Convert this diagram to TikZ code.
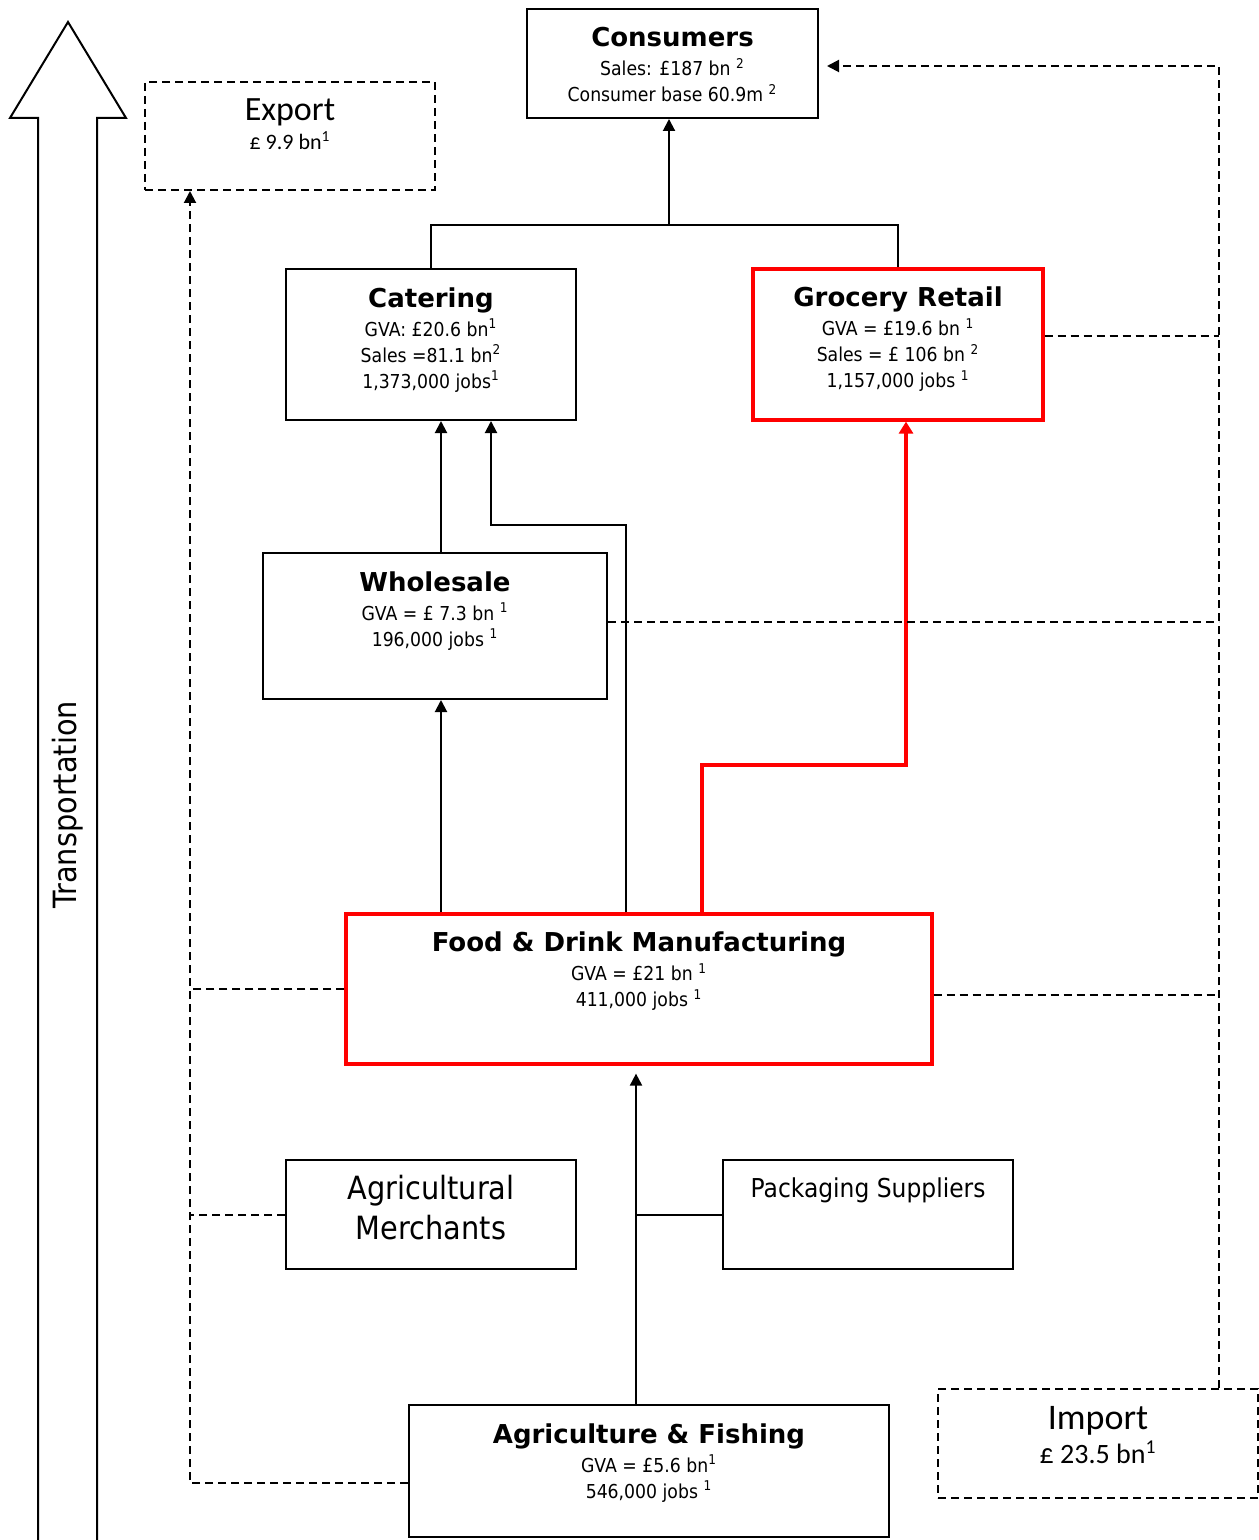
\documentclass[tikz,border=0pt]{standalone}
\usepackage{fontspec}
\setmainfont{DejaVu Sans}[FakeStretch=0.9]
\newfontfamily\headfont{DejaVu Sans}
\newfontfamily\tradefont{Carlito}
\usetikzlibrary{arrows.meta,positioning}
\newcommand{\hd}[1]{{\headfont\bfseries\fontsize{13}{15}\selectfont #1}}
\newcommand{\sps}[1]{\textsuperscript{#1}}

\begin{document}
\begin{tikzpicture}[x=0.5pt,y=-0.5pt,
	box/.style={draw,line width=1pt,inner sep=0pt},
	redbox/.style={draw=red,line width=1.6pt,inner sep=0pt},
	dashbox/.style={draw,line width=1pt,dash pattern=on 4pt off 2.5pt,inner sep=0pt},
	info/.style={inner sep=0pt,align=center,font=\fontsize{9.6}{13}\selectfont},
	flow/.style={line width=1pt,-{Triangle[length=6pt,width=6pt]}},
	redflow/.style={draw=red,line width=2pt,-{Triangle[length=6pt,width=7pt]}},
	link/.style={line width=1pt,dash pattern=on 4pt off 2.5pt}]
\useasboundingbox (0,0) rectangle (1258,1540);

% transportation arrow
\draw[line width=1pt] (38,1545) -- (38,118) -- (10,118) -- (68,22) -- (126,118) -- (97,118) -- (97,1545);
\node[rotate=90,font=\fontsize{16}{18}\selectfont] (trans) at (68,805) {Transportation};

% boxes
\node[box,minimum width=145.5pt,minimum height=54.5pt] (cons) at (672.5,63.5) {};
\node[dashbox,minimum width=145pt,minimum height=54pt] (exp) at (290,136) {};
\node[box,minimum width=145pt,minimum height=75.5pt] (cat) at (431,344.5) {};
\node[redbox,minimum width=145pt,minimum height=75.5pt] (groc) at (898,344.5) {};
\node[box,minimum width=172pt,minimum height=73pt] (whole) at (435,626) {};
\node[redbox,minimum width=293pt,minimum height=75pt] (food) at (639,989) {};
\node[box,minimum width=145pt,minimum height=54.5pt] (agm) at (431,1214.5) {};
\node[box,minimum width=145pt,minimum height=54.5pt] (pack) at (868,1214.5) {};
\node[box,minimum width=240pt,minimum height=66pt] (agri) at (649,1471) {};
\node[dashbox,minimum width=160pt,minimum height=54.5pt] (imp) at (1098,1443.5) {};

% texts
\node[info,below=9.5pt of cons.north] (consT) {\hd{Consumers}\\[1.5pt] Sales: £187 bn \sps{2}\\ Consumer base 60.9m \sps{2}};
\node[info,font=\tradefont\fontsize{11}{13}\selectfont,below=8.5pt of exp.north] (expT) {{\fontsize{17}{20}\selectfont Export}\\[1.5pt] £ 9.9 bn\sps{1}};
\node[info,below=9.5pt of cat.north] (catT) {\hd{Catering}\\[1.5pt] GVA: £20.6 bn\sps{1}\\ Sales =81.1 bn\sps{2}\\ 1,373,000 jobs\sps{1}};
\node[info,below=9.5pt of groc.north] (grocT) {\hd{Grocery Retail}\\[1.5pt] GVA = £19.6 bn \sps{1}\\ Sales = £ 106 bn \sps{2}\\ 1,157,000 jobs \sps{1}};
\node[info,below=9.5pt of whole.north] (wholeT) {\hd{Wholesale}\\[1.5pt] GVA = £ 7.3 bn \sps{1}\\ 196,000 jobs \sps{1}};
\node[info,below=9.5pt of food.north] (foodT) {\hd{Food \& Drink Manufacturing}\\[1.5pt] GVA = £21 bn \sps{1}\\ 411,000 jobs \sps{1}};
\node[info,font=\fontsize{16}{20}\selectfont,below=8pt of agm.north] (agmT) {Agricultural\\ Merchants};
\node[info,font=\fontsize{13}{15}\selectfont,below=9pt of pack.north] (packT) {Packaging Suppliers};
\node[info,below=9.5pt of agri.north] (agriT) {\hd{Agriculture \& Fishing}\\[1.5pt] GVA = £5.6 bn\sps{1}\\ 546,000 jobs \sps{1}};
\node[info,font=\tradefont\fontsize{14}{17}\selectfont,below=9pt of imp.north] (impT) {{\fontsize{18}{20}\selectfont Import}\\[0pt] £ 23.5 bn\sps{1}};

% bends and columns
\coordinate (join) at (669,225);
\coordinate (c1) at (441,0);
\coordinate (c2) at (626,0);
\coordinate (kink) at (491,525);
\coordinate (r1) at (702,0);
\coordinate (rkink) at (906,765);
\coordinate (c4) at (636,0);
\coordinate (c5) at (190,0);
\coordinate (c6) at (1219,0);

% supply chain
\draw[line width=1pt] (cat.north) |- (join) -| (groc.north);
\draw[flow] (join) -- (join |- cons.south);
\draw[flow] (whole.north -| c1) -- (cat.south -| c1);
\draw[flow] (food.north -| c1) -- (whole.south -| c1);
\draw[flow] (food.north -| c2) |- (kink) -- (kink |- cat.south);
\draw[redflow] (food.north -| r1) |- (rkink) -- (rkink |- groc.south);
\draw[flow,shorten >=4pt] (agri.north -| c4) -- (food.south -| c4);
\draw[line width=1pt] (pack.west) -- (pack.west -| c4);

% trade links
\draw[link,-{Triangle[length=6pt,width=6pt]}] ([yshift=-6pt]agri.west) -| (exp.south -| c5);
\draw[link] (food.west) -- (food.west -| c5);
\draw[link] (agm.west) -- (agm.west -| c5);
\draw[link,-{Triangle[length=6pt,width=6pt]},shorten >=4pt] (imp.north -| c6) |- ([yshift=-1.25pt]cons.east);
\draw[link] ([yshift=4pt]groc.east) -- ([yshift=4pt]groc.east -| c6);
\draw[link] ([yshift=2pt]whole.east) -- ([yshift=2pt]whole.east -| c6);
\draw[link] ([yshift=-3pt]food.east) -- ([yshift=-3pt]food.east -| c6);
\end{tikzpicture}
\end{document}
